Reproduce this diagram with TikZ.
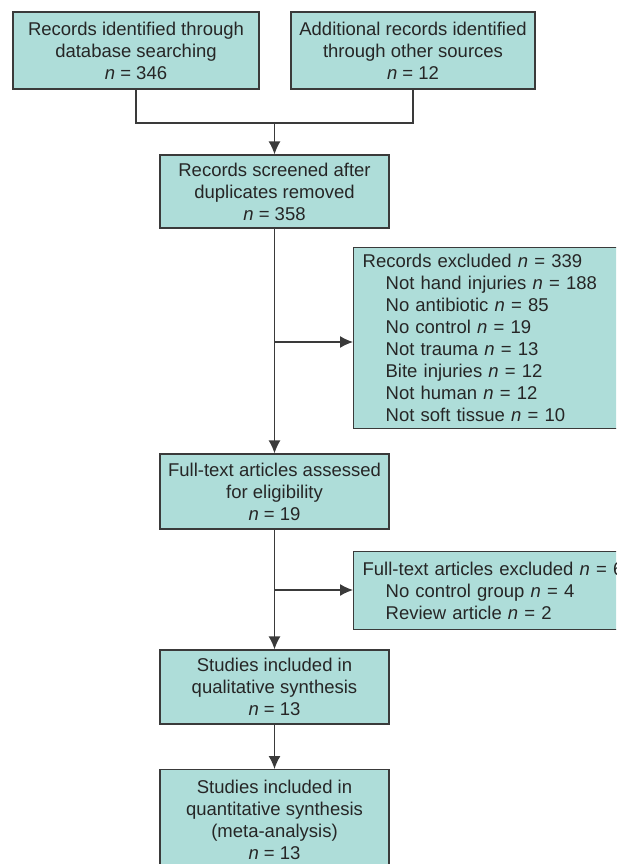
\documentclass[tikz,border=0pt]{standalone}
\usepackage{fontspec}
\setmainfont{Liberation Sans}
\usetikzlibrary{arrows.meta}
\definecolor{boxfill}{HTML}{AEDDD9}
\definecolor{linegray}{HTML}{3A3A3A}
\newcommand{\nval}[1]{\textit{n}~=~#1}
\newcommand{\subln}{\hspace*{23pt}}

\begin{document}
\begin{tikzpicture}[x=1pt,y=-1pt,
  box/.style={draw=linegray,fill=boxfill,line width=1.3pt,align=center,inner sep=0pt,
    font=\fontsize{18.5}{22}\selectfont,text=black!85},
  exbox/.style={box,align=left,anchor=north west,inner xsep=9pt,text width=262pt},
  link/.style={draw=linegray,line width=1.3pt},
  arr/.style={link,-{Latex[length=13pt,width=12pt]}}]
\useasboundingbox (0,0) rectangle (616,864);
\clip (0,0) rectangle (616,864);
\node[box,minimum width=246pt,minimum height=77pt] (ident) at (136,50.5) {Records identified through\\database searching\\\nval{346}};
\node[box,minimum width=244pt,minimum height=77pt] (other) at (413,50.5) {Additional records identified\\through other sources\\\nval{12}};
\node[box,minimum width=229pt,minimum height=73pt] (screen) at (274.5,191.5) {Records screened after\\duplicates removed\\\nval{358}};
\node[exbox,minimum height=181pt] (excl) at (353,247) {Records excluded \nval{339}\\
  \subln Not hand injuries \nval{188}\\
  \subln No antibiotic \nval{85}\\
  \subln No control \nval{19}\\
  \subln Not trauma \nval{13}\\
  \subln Bite injuries \nval{12}\\
  \subln Not human \nval{12}\\
  \subln Not soft tissue \nval{10}};
\node[box,minimum width=229pt,minimum height=75pt] (full) at (274.5,491.5) {Full-text articles assessed\\for eligibility\\\nval{19}};
\node[exbox,minimum height=78pt] (fullex) at (353,551) {Full-text articles excluded \nval{6}\\
  \subln No control group \nval{4}\\
  \subln Review article \nval{2}};
\node[box,minimum width=229pt,minimum height=74pt] (qual) at (274.5,687) {Studies included in\\qualitative synthesis\\\nval{13}};
\node[box,minimum width=229pt,minimum height=100pt,anchor=north] (quant) at (274.5,769) {Studies included in\\quantitative synthesis\\(meta-analysis)\\\nval{13}};

\coordinate (join) at (274.5,123);
\coordinate (branchA) at (274.5,342);
\coordinate (branchB) at (274.5,590);
\draw[link] (ident.south) |- (join) -| (other.south);
\draw[arr] (join) -- (screen.north);
\draw[arr] (screen.south) -- (full.north);
\draw[arr] (branchA) -- (branchA -| excl.west);
\draw[arr] (full.south) -- (qual.north);
\draw[arr] (branchB) -- (branchB -| fullex.west);
\draw[arr] (qual.south) -- (quant.north);
\end{tikzpicture}
\end{document}
